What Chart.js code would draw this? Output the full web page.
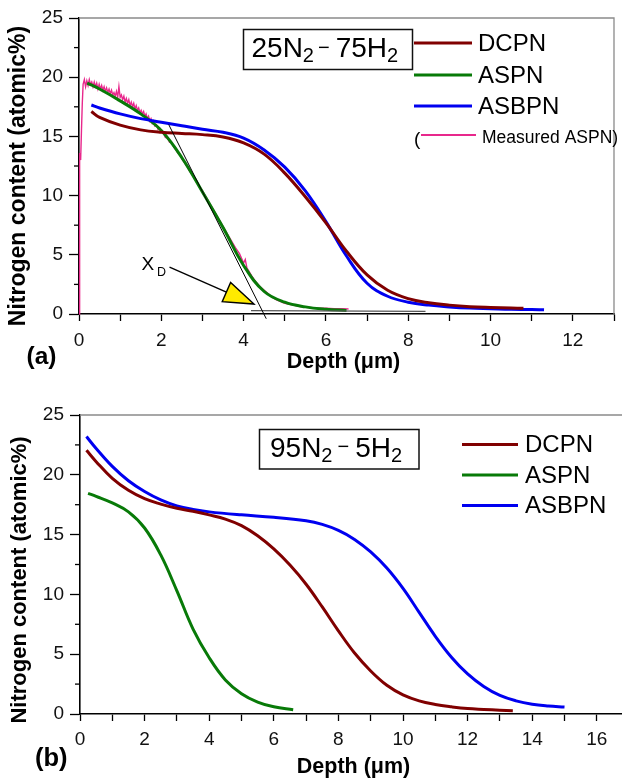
<!DOCTYPE html>
<html>
<head>
<meta charset="utf-8">
<script src="https://cdn.jsdelivr.net/npm/chart.js@4.4.1/dist/chart.umd.min.js"></script>
<style>
  html, body { margin: 0; padding: 0; background: #fff; overflow: hidden; }
  canvas { position: absolute; left: 0; display: block; }
  #chartA { top: 0; }
  #chartB { top: 385px; }
</style>
</head>
<body>
<canvas id="chartA" width="622" height="385"></canvas>
<canvas id="chartB" width="622" height="397"></canvas>
<script>
// ---- panel (a): 25N2-75H2 ----
const depthA_DCPN = [0.3, 0.5, 1.0, 1.5, 2.0, 2.5, 3.0, 3.5, 4.0, 4.5, 5.0, 5.5, 6.0, 6.5, 7.0, 7.5, 8.0, 8.5, 9.0, 9.5, 10.0, 10.5, 10.8];
const nitrogenA_DCPN = [17.1, 16.6, 15.95, 15.55, 15.35, 15.25, 15.15, 14.95, 14.45, 13.5, 11.9, 9.9, 7.7, 5.3, 3.3, 2.0, 1.3, 0.95, 0.75, 0.62, 0.55, 0.5, 0.48];

const depthA_ASBPN = [0.3, 0.5, 1.0, 1.5, 2.0, 2.5, 3.0, 3.5, 4.0, 4.5, 5.0, 5.5, 6.0, 6.5, 7.0, 7.5, 8.0, 8.5, 9.0, 9.5, 10.0, 10.5, 11.0, 11.3];
const nitrogenA_ASBPN = [17.65, 17.4, 16.9, 16.5, 16.2, 15.9, 15.6, 15.35, 14.85, 13.85, 12.4, 10.4, 7.8, 4.9, 2.6, 1.5, 1.0, 0.75, 0.6, 0.5, 0.45, 0.4, 0.38, 0.35];

const depthA_ASPN = [0.2, 0.5, 1.0, 1.5, 2.0, 2.5, 3.0, 3.5, 4.0, 4.5, 5.0, 5.5, 6.0, 6.5];
const nitrogenA_ASPN = [19.5, 19.0, 18.0, 16.9, 15.5, 13.2, 10.3, 7.3, 4.1, 1.9, 1.0, 0.6, 0.4, 0.3];

const depthA_measured = [0.0, 0.01, 0.02, 0.04, 0.06, 0.08, 0.10, 0.13, 0.16, 0.19, 0.22, 0.25, 0.28, 0.31, 0.34, 0.37, 0.40, 0.43, 0.46, 0.49, 0.52, 0.55, 0.58, 0.61, 0.64, 0.67, 0.70, 0.73, 0.76, 0.79, 0.82, 0.85, 0.88, 0.91, 0.94, 0.97, 1.00, 1.03, 1.06, 1.09, 1.12, 1.15, 1.18, 1.21, 1.24, 1.27, 1.30, 1.33, 1.36, 1.39, 1.42, 1.45, 1.48, 1.51, 1.54, 1.57, 1.60, 1.63, 1.66, 1.69, 1.72, 1.75, 1.78, 1.81, 1.84, 1.88, 1.92, 1.96, 2.00, 2.05, 2.10, 2.15, 2.20, 2.25, 2.30, 2.35, 2.40, 2.45, 2.50, 2.60, 2.70, 2.80, 2.90, 3.00, 3.10, 3.20, 3.30, 3.40, 3.50, 3.60, 3.70, 3.80, 3.90, 4.00, 4.04, 4.08, 4.20, 4.30, 4.40, 4.50, 4.60, 4.70, 4.80, 4.90, 5.00, 5.20, 5.40, 5.60, 5.80, 6.00, 6.20, 6.40, 6.55];
const nitrogenA_measured = [0.0, 8.0, 13.6, 13.0, 15.5, 17.8, 19.4, 19.8, 19.2, 19.7, 19.3, 19.8, 19.4, 19.6, 19.2, 19.6, 19.2, 19.5, 19.0, 19.4, 19.0, 19.3, 18.9, 19.2, 18.8, 19.1, 18.7, 19.0, 18.6, 18.9, 18.5, 18.7, 18.4, 18.8, 18.3, 19.2, 18.3, 18.5, 18.1, 18.4, 17.9, 18.2, 17.8, 18.1, 17.6, 17.9, 17.5, 17.8, 17.3, 17.6, 17.2, 17.4, 17.0, 17.2, 16.9, 17.1, 16.7, 16.9, 16.5, 16.7, 16.3, 16.5, 16.1, 16.3, 15.9, 16.0, 15.6, 15.7, 15.4, 15.3, 14.9, 14.9, 14.5, 14.5, 14.1, 13.9, 13.6, 13.5, 13.1, 12.6, 12.0, 11.5, 10.9, 10.4, 9.8, 9.2, 8.6, 8.0, 7.4, 6.8, 6.2, 5.6, 5.1, 4.3, 4.6, 3.9, 3.2, 2.7, 2.3, 2.0, 1.7, 1.4, 1.2, 1.05, 0.9, 0.75, 0.6, 0.55, 0.5, 0.48, 0.45, 0.45, 0.42];

// tangent construction for X_D and the baseline it meets
const tangentX = [2.18, 4.55];
const tangentY = [16.0, -0.4];
const baselineX = [4.18, 8.42];
const baselineY = [0.28, 0.22];
const arrowFrom = [2.2, 3.95];
const arrowTip = [4.25, 0.84];

// ---- panel (b): 95N2-5H2 ----
const depthB_DCPN = [0.2, 0.5, 1.0, 1.5, 2.0, 2.5, 3.0, 3.5, 4.0, 4.5, 5.0, 5.5, 6.0, 6.5, 7.0, 7.5, 8.0, 8.5, 9.0, 9.5, 10.0, 10.5, 11.0, 11.5, 12.0, 12.5, 13.0, 13.4];
const nitrogenB_DCPN = [22.05, 21.1, 19.7, 18.7, 18.0, 17.55, 17.2, 16.95, 16.65, 16.3, 15.75, 14.9, 13.8, 12.45, 10.85, 8.95, 6.95, 5.1, 3.6, 2.4, 1.6, 1.1, 0.8, 0.6, 0.45, 0.38, 0.32, 0.28];

const depthB_ASPN = [0.25, 0.5, 1.0, 1.5, 2.0, 2.5, 3.0, 3.5, 4.0, 4.5, 5.0, 5.5, 6.0, 6.6];
const nitrogenB_ASPN = [18.45, 18.2, 17.65, 16.9, 15.55, 13.3, 10.3, 7.1, 4.7, 2.85, 1.7, 1.0, 0.6, 0.36];

const depthB_ASBPN = [0.2, 0.5, 1.0, 1.5, 2.0, 2.5, 3.0, 3.5, 4.0, 5.0, 6.0, 7.0, 7.5, 8.0, 8.5, 9.0, 9.5, 10.0, 10.5, 11.0, 11.5, 12.0, 12.5, 13.0, 13.5, 14.0, 14.5, 15.0];
const nitrogenB_ASBPN = [23.2, 22.2, 20.7, 19.5, 18.6, 17.9, 17.4, 17.1, 16.9, 16.65, 16.45, 16.15, 15.85, 15.35, 14.6, 13.55, 12.2, 10.5, 8.5, 6.5, 4.75, 3.35, 2.3, 1.55, 1.1, 0.82, 0.67, 0.58];

const yMinorTicks = [2.5, 7.5, 12.5, 17.5, 22.5];

const C_DCPN = '#800000';
const C_ASPN = '#087a08';
const C_ASBPN = '#0000f0';
const C_MEAS = '#e8288c';
const FONT = '"Liberation Sans", Arial, sans-serif';

Chart.defaults.font.family = FONT;

const pts = (xs, ys) => xs.map((x, i) => ({ x: x, y: ys[i] }));

function curve(label, xs, ys, color) {
    return {
        label: label,
        data: pts(xs, ys),
        borderColor: color,
        borderWidth: 3,
        pointRadius: 0,
        fill: false,
        tension: 0.4,
    };
}

function frame(chart, withRight) {
    const { ctx, chartArea: a } = chart;
    ctx.save();
    ctx.strokeStyle = '#8a8a8a';
    ctx.lineWidth = 1.3;
    ctx.beginPath();
    ctx.moveTo(a.left, a.top);
    ctx.lineTo(a.right, a.top);
    if (withRight) ctx.lineTo(a.right, a.bottom);
    ctx.stroke();
    // minor ticks on the y axis
    const ys = chart.scales.y;
    ctx.strokeStyle = '#000';
    ctx.lineWidth = 1.3;
    yMinorTicks.forEach((v) => {
        const py = ys.getPixelForValue(v);
        ctx.beginPath();
        ctx.moveTo(a.left - 5, py);
        ctx.lineTo(a.left, py);
        ctx.stroke();
    });
    ctx.restore();
}

function legend(ctx, x0, x1, textX, rows, size) {
    ctx.save();
    ctx.lineWidth = 3;
    ctx.font = size + 'px ' + FONT;
    ctx.textBaseline = 'middle';
    ctx.fillStyle = '#000';
    rows.forEach((r) => {
        ctx.strokeStyle = r.color;
        ctx.beginPath();
        ctx.moveTo(x0, r.y);
        ctx.lineTo(x1, r.y);
        ctx.stroke();
        ctx.fillText(r.text, textX, r.y + 1);
    });
    ctx.restore();
}

function boxLabel(ctx, bx, by, bw, bh, x, base, parts) {
    ctx.save();
    ctx.strokeStyle = '#111';
    ctx.lineWidth = 1.5;
    ctx.strokeRect(bx, by, bw, bh);
    ctx.fillStyle = '#000';
    ctx.textBaseline = 'alphabetic';
    parts.forEach((p) => {
        ctx.font = p.size + 'px ' + FONT;
        x += p.padL || 0;
        ctx.fillText(p.t, x, base + (p.dy || 0));
        x += ctx.measureText(p.t).width + (p.padR || 0);
    });
    ctx.restore();
}

function titles(ctx, xt, yt, letter) {
    ctx.save();
    ctx.fillStyle = '#000';
    ctx.font = 'bold ' + xt.size + 'px ' + FONT;
    ctx.textAlign = 'center';
    ctx.textBaseline = 'alphabetic';
    ctx.fillText('Depth (\u03bcm)', xt.x, xt.y);
    ctx.font = 'bold ' + letter.size + 'px ' + FONT;
    ctx.textAlign = 'left';
    ctx.textBaseline = 'middle';
    ctx.fillText(letter.t, letter.x, letter.y);
    ctx.translate(yt.x, yt.y);
    ctx.rotate(-Math.PI / 2);
    ctx.font = 'bold ' + yt.size + 'px ' + FONT;
    ctx.textAlign = 'center';
    ctx.fillText('Nitrogen content (atomic%)', 0, 0);
    ctx.restore();
}

function scales(xMax, yWidth, xHeight, pad) {
    return {
        x: {
            type: 'linear',
            min: 0,
            max: xMax,
            afterFit: (s) => { s.height = xHeight; },
            border: { color: '#000', width: 1.6 },
            grid: { drawOnChartArea: false, drawTicks: true, tickLength: 7, tickColor: '#000', tickWidth: 1.3 },
            ticks: {
                stepSize: 1,
                includeBounds: false,
                autoSkip: false,
                maxRotation: 0,
                padding: pad,
                color: '#111',
                font: { size: 19 },
                callback: (v) => (v % 2 === 0 ? v : ''),
            },
        },
        y: {
            type: 'linear',
            min: 0,
            max: 25,
            afterFit: (s) => { s.width = yWidth; },
            border: { color: '#000', width: 1.6 },
            grid: { drawOnChartArea: false, drawTicks: true, tickLength: 10, tickColor: '#000', tickWidth: 1.3 },
            ticks: { stepSize: 5, padding: 6, color: '#111', font: { size: 19 } },
        },
    };
}

const decorA = {
    id: 'decorA',
    beforeDatasetsDraw(chart) { frame(chart, true); },
    afterDraw(chart) {
        const ctx = chart.ctx;
        legend(ctx, 414, 472, 478, [
            { text: 'DCPN', y: 43, color: C_DCPN },
            { text: 'ASPN', y: 75, color: C_ASPN },
            { text: 'ASBPN', y: 106, color: C_ASBPN },
        ], 24);
        // measured row in parentheses
        ctx.save();
        ctx.strokeStyle = C_MEAS;
        ctx.lineWidth = 2;
        ctx.beginPath();
        ctx.moveTo(421, 135);
        ctx.lineTo(476, 135);
        ctx.stroke();
        ctx.fillStyle = '#000';
        ctx.textBaseline = 'middle';
        ctx.font = '19px ' + FONT;
        ctx.fillText('(', 414, 140);
        ctx.font = '17.5px ' + FONT;
        ctx.fillText('Measured ASPN)', 482, 138);
        ctx.restore();

        boxLabel(ctx, 243.5, 29.5, 169, 40, 251.5, 57, [
            { t: '25N', size: 28 },
            { t: '2', size: 20, dy: 5 },
            { t: '\u2212', size: 20, dy: -3.5, padL: 4, padR: 6 },
            { t: '75H', size: 28 },
            { t: '2', size: 20, dy: 5 },
        ]);

        // X_D arrow
        const xs = chart.scales.x, ys = chart.scales.y;
        const fx = xs.getPixelForValue(arrowFrom[0]), fy = ys.getPixelForValue(arrowFrom[1]);
        const tx = xs.getPixelForValue(arrowTip[0]), ty = ys.getPixelForValue(arrowTip[1]);
        const ang = Math.atan2(ty - fy, tx - fx);
        const len = 30, hw = 10.5;
        const bxp = tx - len * Math.cos(ang), byp = ty - len * Math.sin(ang);
        ctx.save();
        ctx.strokeStyle = '#000';
        ctx.lineWidth = 1.4;
        ctx.beginPath();
        ctx.moveTo(fx, fy);
        ctx.lineTo(bxp, byp);
        ctx.stroke();
        ctx.beginPath();
        ctx.moveTo(tx, ty);
        ctx.lineTo(bxp + hw * Math.sin(ang), byp - hw * Math.cos(ang));
        ctx.lineTo(bxp - hw * Math.sin(ang), byp + hw * Math.cos(ang));
        ctx.closePath();
        ctx.fillStyle = '#ffea00';
        ctx.fill();
        ctx.stroke();
        ctx.fillStyle = '#000';
        ctx.textBaseline = 'alphabetic';
        ctx.font = '19px ' + FONT;
        ctx.fillText('X', fx - 28, fy + 3);
        ctx.font = '12.5px ' + FONT;
        ctx.fillText('D', fx - 12.5, fy + 8.5);
        ctx.restore();

        titles(ctx, { x: 343.5, y: 368, size: 21.5 }, { x: 18.5, y: 176, size: 23 }, { t: '(a)', x: 26.5, y: 357, size: 24.5 });
    },
};

const decorB = {
    id: 'decorB',
    beforeDatasetsDraw(chart) { frame(chart, false); },
    afterDraw(chart) {
        const ctx = chart.ctx;
        legend(ctx, 462, 518, 525, [
            { text: 'DCPN', y: 59.5, color: C_DCPN },
            { text: 'ASPN', y: 90, color: C_ASPN },
            { text: 'ASBPN', y: 120.5, color: C_ASBPN },
        ], 24);
        boxLabel(ctx, 259.5, 44.5, 159.5, 39.5, 270, 71.7, [
            { t: '95N', size: 28 },
            { t: '2', size: 20, dy: 5 },
            { t: '\u2212', size: 20, dy: -3.5, padL: 5, padR: 6 },
            { t: '5H', size: 28 },
            { t: '2', size: 20, dy: 5 },
        ]);
        titles(ctx, { x: 353.5, y: 387.5, size: 21.5 }, { x: 19.5, y: 195, size: 22 }, { t: '(b)', x: 35, y: 374, size: 25.5 });
    },
};

new Chart(document.getElementById('chartA').getContext('2d'), {
    type: 'line',
    data: {
        datasets: [
            { label: 'tangent', data: pts(tangentX, tangentY), borderColor: '#000', borderWidth: 1, pointRadius: 0, tension: 0, clip: 8 },
            { label: 'baseline', data: pts(baselineX, baselineY), borderColor: '#555', borderWidth: 1.2, pointRadius: 0, tension: 0 },
            curve('DCPN', depthA_DCPN, nitrogenA_DCPN, C_DCPN),
            curve('ASBPN', depthA_ASBPN, nitrogenA_ASBPN, C_ASBPN),
            curve('ASPN', depthA_ASPN, nitrogenA_ASPN, C_ASPN),
            { label: 'Measured ASPN', data: pts(depthA_measured, nitrogenA_measured), borderColor: C_MEAS, borderWidth: 1.4, pointRadius: 0, tension: 0, clip: 3 },
        ],
    },
    options: {
        responsive: false,
        animation: false,
        layout: { padding: { top: 18, right: 1, left: 0, bottom: 0 } },
        plugins: { legend: { display: false }, tooltip: { enabled: false } },
        scales: scales(13, 79, 71, 8),
    },
    plugins: [decorA],
});

new Chart(document.getElementById('chartB').getContext('2d'), {
    type: 'line',
    data: {
        datasets: [
            curve('DCPN', depthB_DCPN, nitrogenB_DCPN, C_DCPN),
            curve('ASPN', depthB_ASPN, nitrogenB_ASPN, C_ASPN),
            curve('ASBPN', depthB_ASBPN, nitrogenB_ASBPN, C_ASBPN),
        ],
    },
    options: {
        responsive: false,
        animation: false,
        layout: { padding: { top: 30, right: 0, left: 0, bottom: 0 } },
        plugins: { legend: { display: false }, tooltip: { enabled: false } },
        scales: scales(16.78, 80, 68, 7),
    },
    plugins: [decorB],
});
</script>
</body>
</html>
